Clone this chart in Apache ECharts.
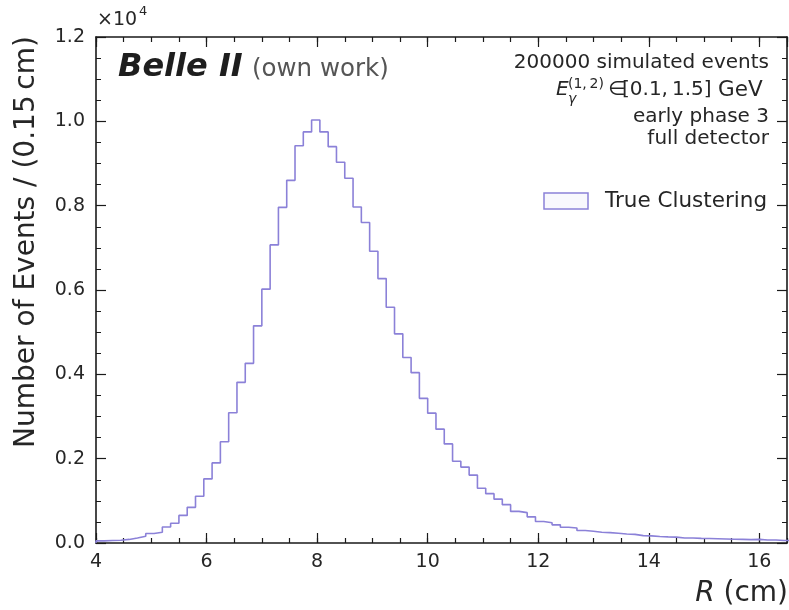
<!DOCTYPE html>
<html>
<head>
<meta charset="utf-8">
<script src="https://cdn.jsdelivr.net/npm/echarts@6/dist/echarts.min.js"></script>
<style>
html,body{margin:0;padding:0;background:#fff;}
#chart{width:789px;height:610px;}
</style>
</head>
<body>
<div id="chart"></div>
<script>
// Histogram: R (cm), bin width 0.15 cm starting at 4.0
var binStart = 4.0;
var binWidth = 0.15;
var counts = [
  50, 60, 65, 85, 120, 160, 225, 255, 380, 470,
  655, 845, 1110, 1520, 1900, 2400, 3090, 3810, 4260, 5150,
  6020, 7070, 7960, 8600, 9420, 9750, 10030, 9750, 9400, 9030,
  8650, 7970, 7600, 6920, 6270, 5590, 4960, 4400, 4040, 3430,
  3080, 2700, 2350, 1940, 1800, 1610, 1300, 1170, 1040, 910,
  750, 720, 620, 510, 480, 430, 375, 355, 295, 280,
  255, 245, 230, 215, 205, 175, 170, 155, 145, 140,
  120, 120, 110, 105, 100, 95, 90, 85, 80, 85,
  70, 70, 60, 60
];
var xTicks = [4, 6, 8, 10, 12, 14, 16];
var yTickLabels = ['0.0', '0.2', '0.4', '0.6', '0.8', '1.0', '1.2'];
var seriesName = 'True Clustering';
var infoLines = ['200000 simulated events', 'early phase 3', 'full detector'];

var FONT = 'DejaVu Sans';
var lineColor = '#8b81d8';
var axisColor = '#1a1a1a';
var textColor = '#262626';

var stepData = [[binStart, 0]];
for (var i = 0; i < counts.length; i++) {
  stepData.push([+(binStart + i * binWidth).toFixed(4), counts[i]]);
}
var lastEdge = +(binStart + counts.length * binWidth).toFixed(4);
stepData.push([lastEdge, counts[counts.length - 1]]);
stepData.push([lastEdge, 0]);

var chart = echarts.init(document.getElementById('chart'), null, {renderer: 'canvas'});

var xMin = 4, xMax = 16.5;
function xAx(pos, interval, len, showLabel, showLine) {
  return {
    type: 'value', position: pos, min: xMin, max: xMax, interval: interval,
    axisLine: {show: showLine, onZero: false, lineStyle: {color: axisColor, width: 1.6}},
    axisTick: {show: true, inside: true, length: len, lineStyle: {color: axisColor, width: 1.2}},
    axisLabel: {show: showLabel, fontFamily: FONT, fontSize: 19, color: textColor, margin: 10,
      showMaxLabel: false,
      formatter: function (v) { return xTicks.indexOf(v) >= 0 ? String(v) : ''; }},
    splitLine: {show: false}
  };
}
function yAx(pos, showLabel) {
  return {
    type: 'value', position: pos, min: 0, max: 12000, interval: 2000,
    axisLine: {show: true, onZero: false, lineStyle: {color: axisColor, width: 1.6}},
    axisTick: {show: true, inside: true, length: 10, lineStyle: {color: axisColor, width: 1.2}},
    minorTick: {show: true, splitNumber: 4, length: 5, lineStyle: {color: axisColor, width: 1}},
    axisLabel: {show: showLabel, fontFamily: FONT, fontSize: 19, color: textColor, margin: 11,
      formatter: function (v) { return yTickLabels[Math.round(v / 2000)]; }},
    splitLine: {show: false}, minorSplitLine: {show: false}
  };
}

function txt(x, y, s, font, align, color) {
  return {type: 'text', x: x, y: y,
    style: {text: s, font: font, fill: color || textColor, align: align || 'left', verticalAlign: 'middle'}};
}

var option = {
  backgroundColor: '#ffffff',
  animation: false,
  grid: {left: 96, right: 2, top: 37, bottom: 67, containLabel: false},
  xAxis: [
    xAx('bottom', 2, 10, true, true),
    xAx('bottom', 0.5, 5, false, false),
    xAx('top', 2, 10, false, true),
    xAx('top', 0.5, 5, false, false)
  ],
  yAxis: [yAx('left', true), yAx('right', false)],
  series: [{
    name: seriesName,
    type: 'line',
    step: 'end',
    data: stepData,
    showSymbol: false,
    symbol: 'none',
    clip: true,
    lineStyle: {color: lineColor, width: 1.6},
    xAxisIndex: 0, yAxisIndex: 0,
    z: 1
  }],
  graphic: [
    txt(97, 20, '\u00d710', '19px "DejaVu Sans"'),
    txt(139, 12, '4', '13px "DejaVu Sans"'),
    {type: 'text', x: 27, y: 242, rotation: Math.PI / 2,
      style: {text: 'Number of Events / (0.15\u2009cm)', font: '28px "DejaVu Sans"', fill: textColor,
        align: 'center', verticalAlign: 'middle'}},
    {type: 'text', x: 788, y: 594,
      style: {text: '{i|R} (cm)', font: '28px "DejaVu Sans"', fill: textColor, align: 'right', verticalAlign: 'middle',
        rich: {i: {fontStyle: 'italic', fontSize: 28, fontFamily: FONT, fill: textColor}}}},
    txt(118, 68, 'Belle II', 'italic bold 32px "DejaVu Sans"', 'left', '#1e1e1e'),
    txt(252, 70, '(own work)', '24.5px "DejaVu Sans"', 'left', '#555555'),
    txt(769, 63, infoLines[0], '20px "DejaVu Sans"', 'right'),
    txt(556, 90, 'E', 'italic 20px "DejaVu Sans"'),
    txt(568, 84, '(1,\u20092)', '14px "DejaVu Sans"'),
    txt(568, 99, '\u03b3', 'italic 14px "DejaVu Sans"'),
    txt(608, 90, '\u2208', '20px "DejaVu Sans"'),
    txt(622, 90, '[0.1,\u20091.5]', '20px "DejaVu Sans"'),
    txt(718, 90, 'GeV', '21.5px "DejaVu Sans"'),
    txt(769, 117, infoLines[1], '20px "DejaVu Sans"', 'right'),
    txt(769, 139, infoLines[2], '20px "DejaVu Sans"', 'right'),
    {type: 'rect', shape: {x: 544, y: 193, width: 44, height: 16},
      style: {fill: 'rgba(139,129,216,0.06)', stroke: lineColor, lineWidth: 1.5}},
    txt(605, 201, seriesName, '21.5px "DejaVu Sans"')
  ]
};
chart.setOption(option);
</script>
</body>
</html>
